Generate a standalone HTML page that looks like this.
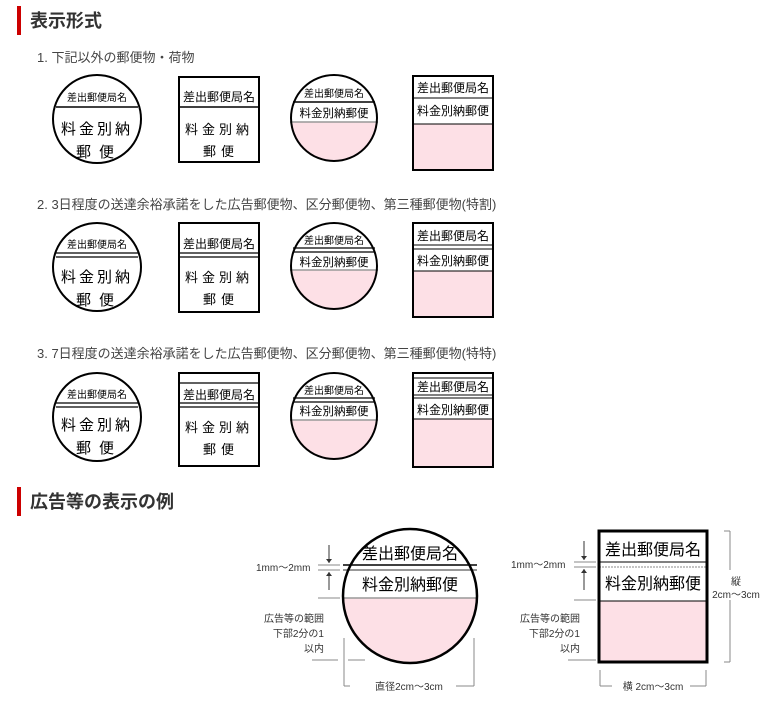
<!DOCTYPE html>
<html><head><meta charset="utf-8"><style>
html,body{margin:0;padding:0;background:#fff;}
body{width:771px;height:701px;overflow:hidden;position:relative;font-family:"Liberation Sans","Noto Sans CJK JP",sans-serif;}
</style></head><body>
<svg width="771" height="701" viewBox="0 0 771 701" xmlns="http://www.w3.org/2000/svg" style="position:absolute;left:0;top:0" font-family="Liberation Sans, Noto Sans CJK JP, sans-serif">
<defs>
<clipPath id="c1"><circle cx="334" cy="118" r="43"/></clipPath>
<clipPath id="cb"><circle cx="410" cy="596" r="67"/></clipPath>
</defs>
<rect x="17" y="6" width="4" height="29" fill="#cc0000"/>
<text x="30" y="27" font-size="18" font-weight="bold" fill="#333">表示形式</text>
<text x="37" y="62" font-size="13" fill="#444">1. 下記以外の郵便物・荷物</text>
<text x="37" y="209" font-size="13" fill="#444">2. 3日程度の送達余裕承諾をした広告郵便物、区分郵便物、第三種郵便物(特割)</text>
<text x="37" y="358" font-size="13" fill="#444">3. 7日程度の送達余裕承諾をした広告郵便物、区分郵便物、第三種郵便物(特特)</text>
<rect x="17" y="487" width="4" height="29" fill="#cc0000"/>
<text x="30" y="508" font-size="18" font-weight="bold" fill="#333">広告等の表示の例</text>

<g stroke="#000" fill="none">
 <circle cx="97" cy="119" r="44" stroke-width="2"/>
 <line x1="56" y1="107" x2="138" y2="107" stroke-width="1.5"/>
 <rect x="179" y="77" width="80" height="85" stroke-width="2"/>
 <line x1="179" y1="107" x2="259" y2="107" stroke-width="1.5"/>
 <g clip-path="url(#c1)"><rect x="290" y="122" width="90" height="45" fill="#fde0e6" stroke="none"/></g>
 <line x1="293" y1="102" x2="375" y2="102" stroke-width="1.5"/>
 <line x1="290" y1="122" x2="378" y2="122" stroke="#999" stroke-width="1.5"/>
 <circle cx="334" cy="118" r="43" stroke-width="2"/>
 <rect x="413" y="124" width="80" height="46" fill="#fde0e6" stroke="none"/>
 <rect x="413" y="76" width="80" height="94" stroke-width="2"/>
 <line x1="413" y1="98" x2="493" y2="98" stroke-width="1"/>
 <line x1="413" y1="124" x2="493" y2="124" stroke-width="1"/>
</g>
<g font-size="10" fill="#000" text-anchor="middle">
 <text x="97" y="101">差出郵便局名</text>
 <text x="97" y="134" font-size="15" letter-spacing="3">料金別納</text>
 <text x="99" y="157" font-size="15" letter-spacing="8">郵便</text>
 <text x="219" y="101" font-size="12">差出郵便局名</text>
 <text x="219" y="134" font-size="13" letter-spacing="4">料金別納</text>
 <text x="221" y="156" font-size="13" letter-spacing="5">郵便</text>
 <text x="334" y="97">差出郵便局名</text>
 <text x="334" y="117" font-size="11.5">料金別納郵便</text>
 <text x="453" y="92" font-size="12">差出郵便局名</text>
 <text x="453" y="115" font-size="12">料金別納郵便</text>
</g>

<g transform="translate(0,148)">
<g stroke="#000" fill="none">
 <circle cx="97" cy="119" r="44" stroke-width="2"/>
 <line x1="56" y1="105" x2="138" y2="105" stroke-width="1.2"/>
 <line x1="56" y1="109" x2="138" y2="109" stroke-width="1.2"/>
 <rect x="179" y="75" width="80" height="89" stroke-width="2"/>
 <line x1="179" y1="105" x2="259" y2="105" stroke-width="1.2"/>
 <line x1="179" y1="109" x2="259" y2="109" stroke-width="1.2"/>
 <g clip-path="url(#c1)"><rect x="290" y="122" width="90" height="45" fill="#fde0e6" stroke="none"/></g>
 <line x1="293" y1="100" x2="375" y2="100" stroke-width="1.2"/>
 <line x1="293" y1="104" x2="375" y2="104" stroke-width="1.2"/>
 <line x1="290" y1="122" x2="378" y2="122" stroke="#999" stroke-width="1.5"/>
 <circle cx="334" cy="118" r="43" stroke-width="2"/>
 <rect x="413" y="123" width="80" height="46" fill="#fde0e6" stroke="none"/>
 <rect x="413" y="75" width="80" height="94" stroke-width="2"/>
 <line x1="413" y1="97" x2="493" y2="97" stroke-width="1"/>
 <line x1="413" y1="101" x2="493" y2="101" stroke-width="1"/>
 <line x1="413" y1="123" x2="493" y2="123" stroke-width="1"/>
</g>
<g font-size="10" fill="#000" text-anchor="middle">
 <text x="97" y="100">差出郵便局名</text>
 <text x="97" y="134" font-size="15" letter-spacing="3">料金別納</text>
 <text x="99" y="157" font-size="15" letter-spacing="8">郵便</text>
 <text x="219" y="100" font-size="12">差出郵便局名</text>
 <text x="219" y="134" font-size="13" letter-spacing="4">料金別納</text>
 <text x="221" y="156" font-size="13" letter-spacing="5">郵便</text>
 <text x="334" y="96">差出郵便局名</text>
 <text x="334" y="118" font-size="11.5">料金別納郵便</text>
 <text x="453" y="92" font-size="12">差出郵便局名</text>
 <text x="453" y="117" font-size="12">料金別納郵便</text>
</g>
</g>

<g transform="translate(0,298)">
<g stroke="#000" fill="none">
 <circle cx="97" cy="119" r="44" stroke-width="2"/>
 <line x1="56" y1="105" x2="138" y2="105" stroke-width="1.2"/>
 <line x1="56" y1="109" x2="138" y2="109" stroke-width="1.2"/>
 <rect x="179" y="75" width="80" height="93" stroke-width="2"/>
 <line x1="179" y1="85" x2="259" y2="85" stroke-width="1.2"/>
 <line x1="179" y1="105" x2="259" y2="105" stroke-width="1.2"/>
 <line x1="179" y1="109" x2="259" y2="109" stroke-width="1.2"/>
 <g clip-path="url(#c1)"><rect x="290" y="122" width="90" height="45" fill="#fde0e6" stroke="none"/></g>
 <line x1="293" y1="100" x2="375" y2="100" stroke-width="1.2"/>
 <line x1="293" y1="104" x2="375" y2="104" stroke-width="1.2"/>
 <line x1="290" y1="122" x2="378" y2="122" stroke="#999" stroke-width="1.5"/>
 <circle cx="334" cy="118" r="43" stroke-width="2"/>
 <rect x="413" y="121" width="80" height="48" fill="#fde0e6" stroke="none"/>
 <rect x="413" y="75" width="80" height="94" stroke-width="2"/>
 <line x1="413" y1="80" x2="493" y2="80" stroke-width="1"/>
 <line x1="413" y1="97" x2="493" y2="97" stroke-width="1"/>
 <line x1="413" y1="100" x2="493" y2="100" stroke-width="1"/>
 <line x1="413" y1="121" x2="493" y2="121" stroke-width="1"/>
</g>
<g font-size="10" fill="#000" text-anchor="middle">
 <text x="97" y="100">差出郵便局名</text>
 <text x="97" y="132" font-size="15" letter-spacing="3">料金別納</text>
 <text x="99" y="155" font-size="15" letter-spacing="8">郵便</text>
 <text x="219" y="101" font-size="12">差出郵便局名</text>
 <text x="219" y="134" font-size="13" letter-spacing="4">料金別納</text>
 <text x="221" y="156" font-size="13" letter-spacing="5">郵便</text>
 <text x="334" y="96">差出郵便局名</text>
 <text x="334" y="117" font-size="11.5">料金別納郵便</text>
 <text x="453" y="93" font-size="12">差出郵便局名</text>
 <text x="453" y="116" font-size="12">料金別納郵便</text>
</g>
</g>

<g clip-path="url(#cb)"><rect x="340" y="598" width="140" height="70" fill="#fde0e6"/></g>
<line x1="343" y1="565" x2="477" y2="565" stroke="#000" stroke-width="1.5"/>
<line x1="343" y1="570" x2="477" y2="570" stroke="#777" stroke-width="1.5"/>
<line x1="343" y1="598" x2="477" y2="598" stroke="#999" stroke-width="1.5"/>
<circle cx="410" cy="596" r="67" fill="none" stroke="#000" stroke-width="2.5"/>
<text x="410" y="559" font-size="16" text-anchor="middle">差出郵便局名</text>
<text x="410" y="590" font-size="16" text-anchor="middle">料金別納郵便</text>
<rect x="599" y="601" width="108" height="60" fill="#fde0e6"/>
<line x1="599" y1="562" x2="707" y2="562" stroke="#000" stroke-width="1"/>
<line x1="599" y1="567" x2="707" y2="567" stroke="#888" stroke-width="1" stroke-dasharray="2,1"/>
<line x1="599" y1="601" x2="707" y2="601" stroke="#000" stroke-width="1"/>
<rect x="599" y="531" width="108" height="131" fill="none" stroke="#000" stroke-width="3"/>
<text x="653" y="555" font-size="16" text-anchor="middle">差出郵便局名</text>
<text x="653" y="589" font-size="16" text-anchor="middle">料金別納郵便</text>

<g stroke="#888" stroke-width="1" fill="none">
 <line x1="318" y1="565" x2="340" y2="565"/><line x1="318" y1="570" x2="340" y2="570"/>
 <line x1="318" y1="598" x2="340" y2="598"/>
 <line x1="312" y1="660" x2="338" y2="660"/><line x1="348" y1="660" x2="365" y2="660"/>
 <line x1="344" y1="638" x2="344" y2="686"/><line x1="344" y1="686" x2="350" y2="686"/>
 <line x1="474" y1="638" x2="474" y2="686"/><line x1="456" y1="686" x2="474" y2="686"/>
 <line x1="574" y1="562" x2="596" y2="562"/><line x1="574" y1="567" x2="596" y2="567"/>
 <line x1="574" y1="600" x2="596" y2="600"/><line x1="568" y1="660" x2="596" y2="660"/>
 <line x1="600" y1="670" x2="600" y2="686"/><line x1="600" y1="686" x2="612" y2="686"/>
 <line x1="706" y1="670" x2="706" y2="686"/><line x1="690" y1="686" x2="706" y2="686"/>
 <line x1="724" y1="531" x2="730" y2="531"/><line x1="730" y1="531" x2="730" y2="570"/>
 <line x1="730" y1="600" x2="730" y2="662"/><line x1="724" y1="662" x2="730" y2="662"/>
</g>
<g stroke="#333" stroke-width="1">
 <line x1="329" y1="545" x2="329" y2="563"/><line x1="329" y1="572" x2="329" y2="590"/>
 <line x1="584" y1="541" x2="584" y2="560"/><line x1="584" y1="569" x2="584" y2="590"/>
</g>
<g fill="#333">
 <path d="M326,559 L332,559 L329,563Z"/><path d="M326,576 L332,576 L329,572Z"/>
 <path d="M581,556 L587,556 L584,560Z"/><path d="M581,573 L587,573 L584,569Z"/>
</g>
<g font-size="10" fill="#333">
 <text x="256" y="571">1mm～2mm</text>
 <text x="511" y="568">1mm～2mm</text>
 <text x="324" y="622" text-anchor="end">広告等の範囲</text>
 <text x="324" y="637" text-anchor="end">下部2分の1</text>
 <text x="324" y="652" text-anchor="end">以内</text>
 <text x="580" y="622" text-anchor="end">広告等の範囲</text>
 <text x="580" y="637" text-anchor="end">下部2分の1</text>
 <text x="580" y="652" text-anchor="end">以内</text>
 <text x="409" y="690" text-anchor="middle">直径2cm～3cm</text>
 <text x="653" y="690" text-anchor="middle">横 2cm～3cm</text>
 <text x="736" y="585" text-anchor="middle">縦</text>
 <text x="736" y="598" text-anchor="middle">2cm～3cm</text>
</g>
</svg>
</body></html>
